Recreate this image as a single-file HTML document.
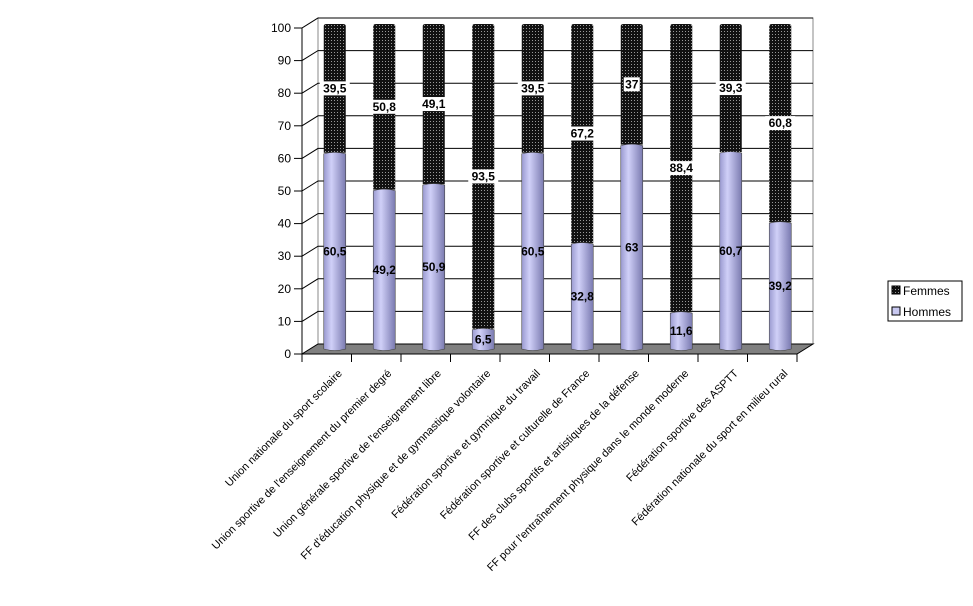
<!DOCTYPE html>
<html><head><meta charset="utf-8"><style>
body{margin:0;background:#fff}
svg text{font-family:"Liberation Sans",sans-serif}
</style></head><body>
<svg id="c" width="973" height="601" xmlns="http://www.w3.org/2000/svg">
<defs>
<pattern id="dots" width="3" height="3" patternUnits="userSpaceOnUse"><rect width="3" height="3" fill="#111"/><rect x="1" y="1" width="1" height="1" fill="#999"/></pattern>
<linearGradient id="hg" x1="0" x2="1"><stop offset="0" stop-color="#9a9ad0"/><stop offset="0.35" stop-color="#d0d0f8"/><stop offset="1" stop-color="#7a7ab0"/></linearGradient>
</defs>
<g id="grid"></g><g id="bars"></g><g id="axes"></g>
<g>
<rect x="888" y="281" width="74" height="40" fill="#fff" stroke="#000"/>
<rect x="892" y="286" width="8" height="8" fill="url(#dots)" stroke="#000"/>
<text x="903" y="295" font-size="12">Femmes</text>
<rect x="892" y="307" width="8" height="8" fill="#c8c8f0" stroke="#000"/>
<text x="903" y="316" font-size="12">Hommes</text>
</g>
</svg>
<script>
const categories=["Union nationale du sport scolaire","Union sportive de l'enseignement du premier degré","Union générale sportive de l'enseignement libre","FF d'éducation physique et de gymnastique volontaire","Fédération sportive et gymnique du travail","Fédération sportive et culturelle de France","FF des clubs sportifs et artistiques de la défense","FF pour l'entraînement physique dans le monde moderne","Fédération sportive des ASPTT","Fédération nationale du sport en milieu rural"];
const hommes=[60.5,49.2,50.9,6.5,60.5,32.8,63,11.6,60.7,39.2];
const femmes=[39.5,50.8,49.1,93.5,39.5,67.2,37,88.4,39.3,60.8];
const yTicks=[0,10,20,30,40,50,60,70,80,90,100];
const NS="http://www.w3.org/2000/svg";
const X0=302,X1=797,Y0=354,K=3.26,DX=16,DY=10;
const yF=v=>Y0-v*K;
const step=(X1-X0)/categories.length;
function el(t,a,p){const e=document.createElementNS(NS,t);for(const k in a)e.setAttribute(k,a[k]);document.getElementById(p).appendChild(e);return e;}
let w=el('polygon',{points:`${X0},${Y0} ${X0+DX},${Y0-DY} ${X0+DX},${yF(100)-DY} ${X0},${yF(100)}`,fill:'#fff',stroke:'#888'},'grid');

w=el('rect',{x:X0+DX,y:yF(100)-DY,width:X1-X0,height:100*K,fill:'#fff',stroke:'#888'},'grid');

yTicks.forEach(v=>{if(v===0)return;
 const g=el('polyline',{points:`${X0},${yF(v)} ${X0+DX},${yF(v)-DY} ${X1+DX},${yF(v)-DY}`,fill:'none',stroke:'#000'},'grid');
 });
const fl=el('polygon',{points:`${X0},${Y0} ${X1},${Y0} ${X1+DX},${Y0-DY} ${X0+DX},${Y0-DY}`,fill:'#808080',stroke:'#000'},'grid');

categories.forEach((c,i)=>{
 const cx=X0+step*(i+0.5)+DX/2, bw=22, base=Y0-DY/2+1;
 const yh=base-hommes[i]*K, yt=base-(hommes[i]+femmes[i])*K;
 const f=el('path',{d:`M${cx-bw/2},${yh} L${cx-bw/2},${yt+2} Q${cx-bw/2},${yt} ${cx-bw/2+3},${yt} L${cx+bw/2-3},${yt} Q${cx+bw/2},${yt} ${cx+bw/2},${yt+2} L${cx+bw/2},${yh} Z`,fill:'url(#dots)'},'bars');
 
 const h=el('path',{d:`M${cx-bw/2},${yh+1} Q${cx},${yh-2} ${cx+bw/2},${yh+1} L${cx+bw/2},${base-1} Q${cx},${base+2} ${cx-bw/2},${base-1} Z`,fill:'url(#hg)',stroke:'#444','stroke-width':0.6},'bars');
 
 const lh=el('text',{x:cx,y:base-hommes[i]*K/2+4,'font-size':12,'font-weight':'bold','text-anchor':'middle'},'bars');
 lh.textContent=String(hommes[i]).replace('.',',');
 
 const ly=yh-femmes[i]*K/2+4, txt=String(femmes[i]).replace('.',',');
 const bg=el('rect',{x:cx-txt.length*3.5-1,y:ly-11,width:txt.length*7+2,height:14,fill:'#fff'},'bars');
 
 const lf=el('text',{x:cx,y:ly,'font-size':12,'font-weight':'bold','text-anchor':'middle'},'bars');
 lf.textContent=txt;
 
 const tx=X0+step*(i+0.5)+16, ty=374;
 const cl=el('text',{x:tx,y:ty,'font-size':11,'text-anchor':'end',transform:`rotate(-45 ${tx} ${ty})`},'axes');
 cl.textContent=c;
 
});
const ya=el('line',{x1:X0,y1:Y0,x2:X0,y2:yF(100),stroke:'#000'},'axes');

const xa=el('line',{x1:X0,y1:Y0,x2:X1,y2:Y0,stroke:'#000'},'axes');

yTicks.forEach(v=>{
 const t=el('line',{x1:X0-8,y1:yF(v),x2:X0,y2:yF(v),stroke:'#000'},'axes');
 
 const l=el('text',{x:X0-11,y:yF(v)+4,'font-size':12,'text-anchor':'end'},'axes');
 l.textContent=v;
 
});
for(let i=0;i<=categories.length;i++){
 const t=el('line',{x1:X0+step*i,y1:Y0,x2:X0+step*i,y2:Y0+8,stroke:'#000'},'axes');
 
}
</script>
</body></html>
